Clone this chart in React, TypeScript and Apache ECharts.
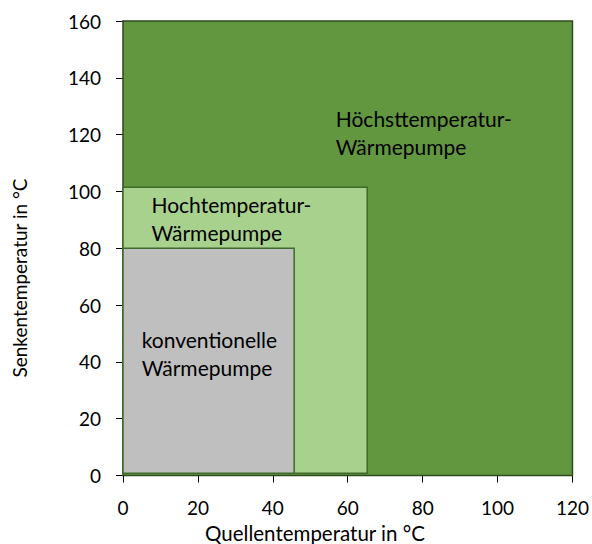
import React, { useEffect, useRef } from "react";
import * as echarts from "echarts";

const xTicks = [0, 120];
const yTicks = [0, 160];
const regionNames = ["Höchsttemperatur-\nWärmepumpe", "Hochtemperatur-\nWärmepumpe", "konventionelle\nWärmepumpe"];
const regionXMin = [0, 0, 0];
const regionXMax = [120, 65.2, 45.7];
const regionYMin = [0, 0.8, 0.8];
const regionYMax = [160, 101.5, 80];
const labelX = [56.8, 7.6, 5.0];
const labelY = [130.6, 100.3, 52.7];

const fills = ["#629740", "#a9d18e", "#bfbfbf"];
const strokes = ["#2e4a1e", "#3f6a2a", "#3f6a2a"];
const FONT = "Lato, 'Open Sans', sans-serif";

export default function App() {
  const ref = useRef<HTMLDivElement>(null);
  useEffect(() => {
    if (!ref.current) return;
    const chart = echarts.init(ref.current, null, { renderer: "svg" });
    const data = regionNames.map((n, i) => [regionXMin[i], regionYMin[i], regionXMax[i], regionYMax[i], i]);
    chart.setOption({
      animation: false,
      backgroundColor: "#ffffff",
      grid: { left: 123, right: 19, top: 21, bottom: 68.5 },
      xAxis: {
        type: "value",
        min: xTicks[0],
        max: xTicks[1],
        interval: 20,
        splitLine: { show: false },
        axisLine: { show: true, onZero: false, lineStyle: { color: "#000", width: 1 } },
        axisTick: { show: true, length: 7, lineStyle: { color: "#000" } },
        axisLabel: { color: "#000", fontSize: 19, fontFamily: FONT, margin: 22 },
      },
      yAxis: {
        type: "value",
        min: yTicks[0],
        max: yTicks[1],
        interval: 20,
        splitLine: { show: false },
        axisLine: { show: true, onZero: false, lineStyle: { color: "#000", width: 1 } },
        axisTick: { show: true, length: 7, lineStyle: { color: "#000" } },
        axisLabel: { color: "#000", fontSize: 19, fontFamily: FONT, margin: 22 },
      },
      graphic: [
        {
          type: "text",
          x: 315,
          y: 533,
          style: { text: "Quellentemperatur in °C", fill: "#000", fontSize: 20.5, fontFamily: FONT, align: "center", verticalAlign: "middle" },
        },
        {
          type: "text",
          x: 19,
          y: 278,
          rotation: Math.PI / 2,
          style: { text: "Senkentemperatur in °C", fill: "#000", fontSize: 19, fontFamily: FONT, align: "center", verticalAlign: "middle" },
        },
      ],
      series: [
        {
          type: "custom",
          data,
          renderItem: (params: any, api: any) => {
            const i = api.value(4);
            const p0 = api.coord([api.value(0), api.value(1)]);
            const p1 = api.coord([api.value(2), api.value(3)]);
            const lp = api.coord([labelX[i], labelY[i]]);
            return {
              type: "group",
              children: [
                {
                  type: "rect",
                  shape: { x: p0[0], y: p1[1], width: p1[0] - p0[0], height: p0[1] - p1[1] },
                  style: { fill: fills[i], stroke: strokes[i], lineWidth: 1.5 },
                },
                {
                  type: "text",
                  x: lp[0],
                  y: lp[1],
                  style: {
                    text: regionNames[i],
                    fill: "#000",
                    fontSize: 21,
                    lineHeight: 28,
                    fontFamily: FONT,
                    align: "left",
                    verticalAlign: "top",
                  },
                },
              ],
            };
          },
        },
      ],
    });
    return () => chart.dispose();
  }, []);
  return <div ref={ref} style={{ width: 592, height: 544, position: "absolute", left: 0, top: 0 }} />;
}
